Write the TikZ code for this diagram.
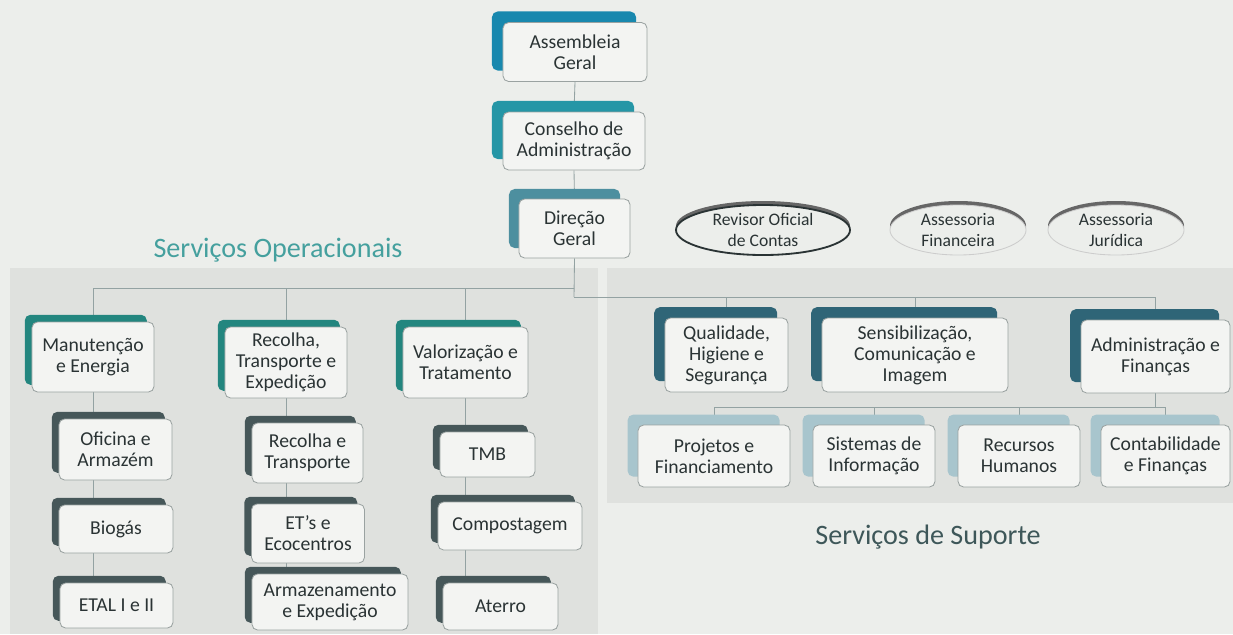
\documentclass[tikz,border=0pt]{standalone}
\usepackage{fontspec}
\setmainfont{Carlito}
\usetikzlibrary{shapes.geometric}
\usetikzlibrary{shadows}

\definecolor{paper}{HTML}{ECEEEB}
\definecolor{panel}{HTML}{DFE1DE}
\definecolor{boxfill}{HTML}{F3F4F2}
\definecolor{boxline}{HTML}{9AA2A1}
\definecolor{txt}{HTML}{2A3334}
\definecolor{linkc}{HTML}{93A2A2}
\definecolor{tabag}{HTML}{1888AE}
\definecolor{tabca}{HTML}{2596A6}
\definecolor{tabdg}{HTML}{4D8F9F}
\definecolor{tabop}{HTML}{23867F}
\definecolor{tabsub}{HTML}{465759}
\definecolor{tabsup}{HTML}{2F6577}
\definecolor{tabsec}{HTML}{A8C5CD}
\definecolor{optitle}{HTML}{45A09E}
\definecolor{suptitle}{HTML}{3E5759}

\pgfdeclarelayer{bg}
\pgfdeclarelayer{links}
\pgfsetlayers{bg,links,main}

\newcommand{\boxfont}{\fontsize{14}{15}\selectfont}
\newcommand{\ellfont}{\fontsize{12.5}{15}\selectfont}

\tikzstyle{box}=[%
  draw=boxline,
  fill=boxfill,
  line width=0.6pt,
  rounded corners=4pt,
  inner sep=1pt,
  text=txt,
  font=\boxfont,
  align=center
]
\tikzstyle{ell}=[%
  ellipse,
  fill=paper,
  inner sep=0pt,
  minimum height=1.25cm,
  text=txt,
  font=\ellfont,
  align=center,
  general shadow={fill=black!60, shadow yshift=0.1cm}
]
\tikzstyle{link}=[draw=linkc, line width=0.6pt]
\tikzset{tab/.style 2 args={general shadow={fill=#1, shadow xshift=-#2, shadow yshift=#2}}}

\begin{document}
\begin{tikzpicture}[x=0.025cm, y=-0.025cm]
    \useasboundingbox (0,0) rectangle (1233,634);
    \begin{pgfonlayer}{bg}
      \fill[paper] (0,0) rectangle (1233,634);
      \fill[panel] (10,268) rectangle (598,634);
      \fill[panel] (607,268) rectangle (1233,503);
    \end{pgfonlayer}

    % topo
    \node[box, tab={tabag}{0.275cm}, minimum width=3.6cm, minimum height=1.475cm] (ag) at (575,52) {Assembleia\\Geral};
    \node[box, tab={tabca}{0.275cm}, minimum width=3.55cm, minimum height=1.45cm] (ca) at (574,141) {Conselho de\\Administração};
    \node[box, tab={tabdg}{0.25cm}, minimum width=2.775cm, minimum height=1.475cm] (dg) at (574.5,228.5) {Direção\\Geral};

    \node[ell, draw=txt, line width=1.3pt, minimum width=4.35cm] (roc) at (763,230) {Revisor Oficial\\de Contas};
    \node[ell, draw=black!20, line width=0.6pt, minimum width=3.4cm] (afin) at (958,230) {Assessoria\\Financeira};
    \node[ell, draw=black!20, line width=0.6pt, minimum width=3.4cm] (ajur) at (1116,230) {Assessoria\\Jurídica};

    \node[text=optitle, font=\fontsize{20}{22}\selectfont] (op) at (278,250) {Serviços Operacionais};
    \node[text=suptitle, font=\fontsize{20}{22}\selectfont] (sup) at (928,537) {Serviços de Suporte};

    % servicos operacionais
    \node[box, tab={tabop}{0.18cm}, minimum width=3.05cm, minimum height=1.75cm] (me) at (93,357) {Manutenção\\e Energia};
    \node[box, tab={tabop}{0.18cm}, minimum width=3.05cm, minimum height=1.775cm] (rte) at (286,362.5) {Recolha,\\Transporte e\\Expedição};
    \node[box, tab={tabop}{0.18cm}, minimum width=3.125cm, minimum height=1.775cm] (vt) at (465.5,362.5) {Valorização e\\Tratamento};

    \node[box, tab={tabsub}{0.18cm}, minimum width=2.825cm, minimum height=1.525cm] (oa) at (115.5,449.5) {Oficina e\\Armazém};
    \node[box, tab={tabsub}{0.18cm}, minimum width=2.85cm, minimum height=1.2cm] (bio) at (116,529) {Biogás};
    \node[box, tab={tabsub}{0.18cm}, minimum width=2.825cm, minimum height=1.125cm] (etal) at (116.5,605.5) {ETAL I e II};

    \node[box, tab={tabsub}{0.18cm}, minimum width=2.775cm, minimum height=1.5cm] (rt) at (307.5,453) {Recolha e\\Transporte};
    \node[box, tab={tabsub}{0.18cm}, minimum width=2.825cm, minimum height=1.475cm] (et) at (308,533.5) {ET’s e\\Ecocentros};
    \node[box, tab={tabsub}{0.18cm}, minimum width=3.9cm, minimum height=1.4cm] (ae) at (330,602) {Armazenamento\\e Expedição};

    \node[box, tab={tabsub}{0.18cm}, minimum width=2.375cm, minimum height=1.125cm] (tmb) at (487.5,454.5) {TMB};
    \node[box, tab={tabsub}{0.18cm}, minimum width=3.6cm, minimum height=1.2cm] (comp) at (510,526) {Compostagem};
    \node[box, tab={tabsub}{0.18cm}, minimum width=2.875cm, minimum height=1.175cm] (ater) at (500.5,606.5) {Aterro};

    % servicos de suporte
    \node[box, tab={tabsup}{0.27cm}, minimum width=3.075cm, minimum height=1.85cm] (qhs) at (726.5,355) {Qualidade,\\Higiene e\\Segurança};
    \node[box, tab={tabsup}{0.27cm}, minimum width=4.65cm, minimum height=1.85cm] (sci) at (915,355) {Sensibilização,\\Comunicação e\\Imagem};
    \node[box, tab={tabsup}{0.27cm}, minimum width=3.725cm, minimum height=1.825cm] (af) at (1155.5,356.5) {Administração e\\Finanças};

    \node[box, tab={tabsec}{0.26cm}, minimum width=3.8cm, minimum height=1.55cm] (pf) at (714,456) {Projetos e\\Financiamento};
    \node[box, tab={tabsec}{0.26cm}, minimum width=3.05cm, minimum height=1.55cm] (si) at (874,456) {Sistemas de\\Informação};
    \node[box, tab={tabsec}{0.26cm}, minimum width=3.05cm, minimum height=1.55cm] (rh) at (1019,456) {Recursos\\Humanos};
    \node[box, tab={tabsec}{0.26cm}, minimum width=3.225cm, minimum height=1.55cm] (cf) at (1165.5,456) {Contabilidade\\e Finanças};

    \begin{pgfonlayer}{links}
      \coordinate (lbus) at (574,288);
      \coordinate (rbus) at (574,297);
      \coordinate (sbus) at (1155.5,407);
      \draw[link] (ag.south) -- (ca.north);
      \draw[link] (ca.south) -- (dg.north);
      \draw[link] (dg.south) -- (rbus);
      \foreach \n in {me,rte,vt} {%
        \draw[link] (lbus) -| (\n.north);
      }
      \foreach \n in {qhs,sci,af} {%
        \draw[link] (rbus) -| (\n.north);
      }
      \draw[link] (af.south) -- (sbus);
      \foreach \n in {pf,si,rh,cf} {%
        \draw[link] (sbus) -| (\n.north);
      }
      \draw[link] (me.south) -- (me.south |- etal.north);
      \draw[link] (rte.south) -- (rte.south |- ae.north);
      \draw[link] (vt.south) -- (vt.south |- ater.north);
    \end{pgfonlayer}
\end{tikzpicture}
\end{document}
